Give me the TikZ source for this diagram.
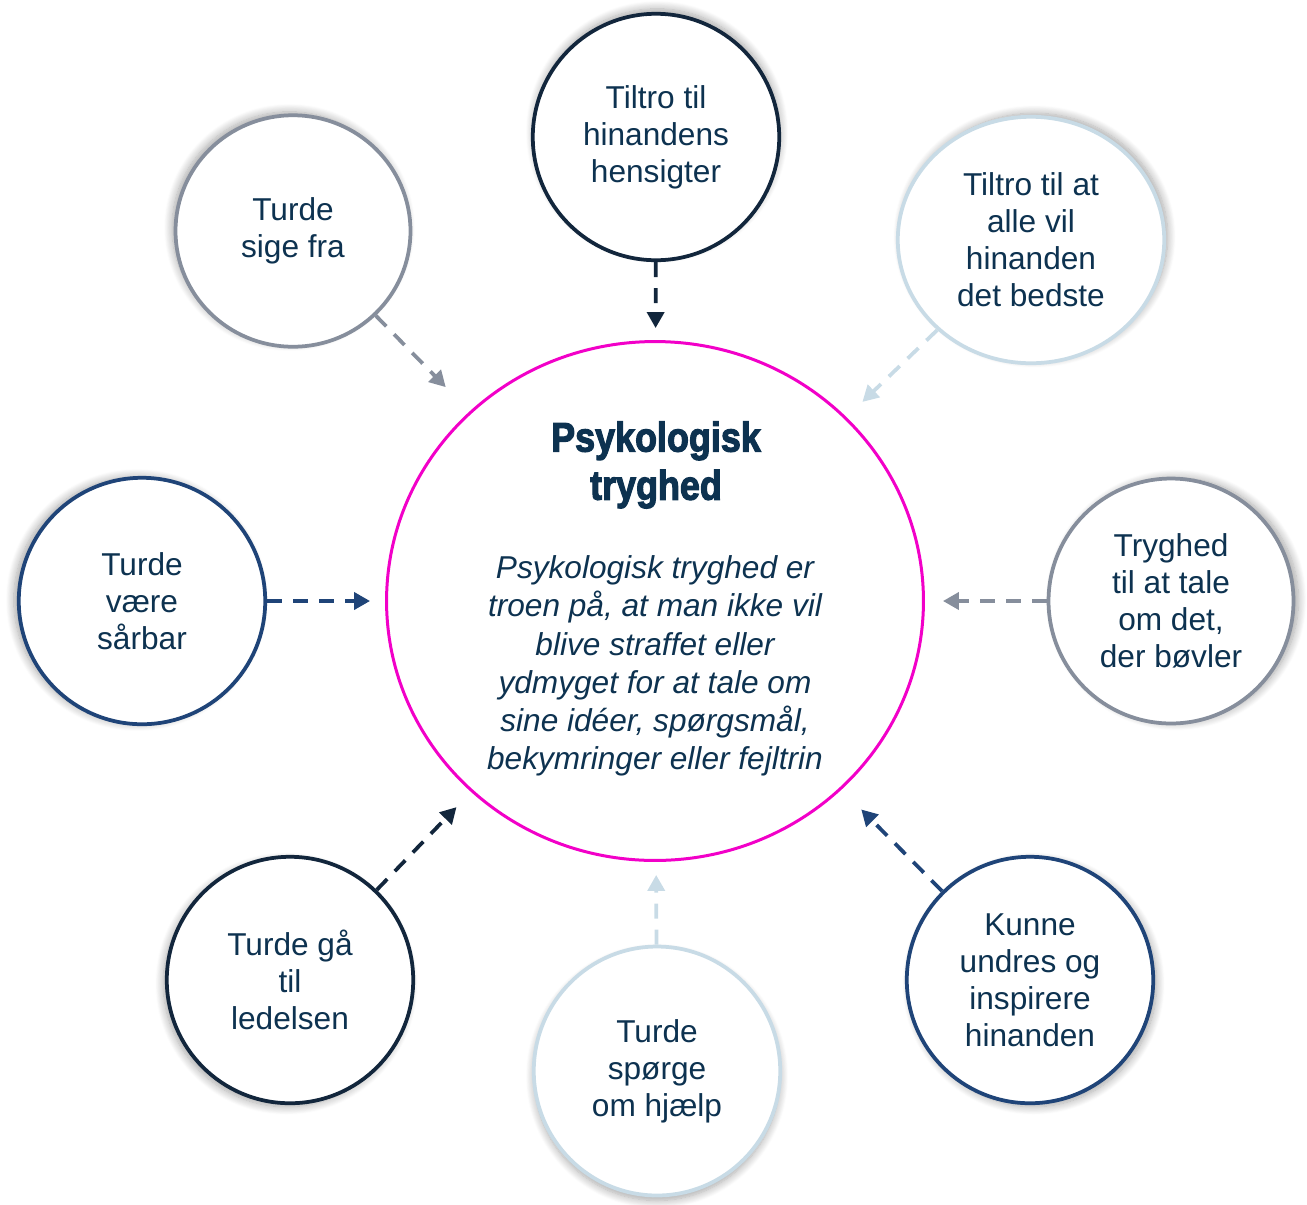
\documentclass[tikz,border=0pt]{standalone}
\usepackage{fontspec}
\setmainfont{Liberation Sans}
\newfontfamily\titlefont{Liberation Sans Bold}[FakeBold=3]
\usetikzlibrary{arrows.meta,shapes.geometric,shadows.blur}

\definecolor{ink}{RGB}{13,50,80}
\definecolor{cDark}{RGB}{18,38,60}
\definecolor{cBlue}{RGB}{31,68,120}
\definecolor{cGray}{RGB}{134,142,156}
\definecolor{cLight}{RGB}{200,219,230}
\definecolor{cMagenta}{RGB}{242,0,200}

\tikzset{
  bubble/.style={ellipse, draw, fill=white, line width=0.075cm, inner sep=0pt,
    align=center, text=ink, font=\fontsize{18}{21}\selectfont},
  glow/.style 2 args={blur shadow={shadow xshift=#1, shadow yshift=#2,
    shadow blur radius=0.16cm, shadow blur steps=10, shadow opacity=35}},
  link/.style={line width=0.075cm, dash pattern=on 0.3cm off 0.22cm,
    -{Triangle[length=0.32cm,width=0.34cm]}},
}

\begin{document}
\begin{tikzpicture}[x=0.02cm, y=-0.02cm]
  \useasboundingbox (0,0) rectangle (1307,1204);

  % central ellipse with heading and definition
  \node[ellipse, draw=cMagenta, line width=0.06cm, inner sep=0pt,
        minimum width=10.74cm, minimum height=10.38cm] (core) at (655,601) {};
  \node[inner sep=0pt, align=center, text=ink,
        font=\titlefont\fontsize{23.5}{27.4}\selectfont] (title) at (656,465)
        {\scalebox{0.87}[1]{Psykologisk}\\\scalebox{0.87}[1]{tryghed}};
  \node[inner sep=0pt, align=center, text=ink,
        font=\itshape\fontsize{18}{21.8}\selectfont] (body) at (655,666)
        {Psykologisk tryghed er\\troen på, at man ikke vil\\blive straffet eller\\
         ydmyget for at tale om\\sine idéer, spørgsmål,\\bekymringer eller fejltrin};

  % surrounding bubbles
  \node[bubble, draw=cDark, glow={0.02cm}{0.1cm}, minimum width=4.93cm, minimum height=4.93cm]
    (trust) at (656,137) {Tiltro til\\hinandens\\hensigter};
  \node[bubble, draw=cLight, glow={0.07cm}{0.07cm}, minimum width=5.33cm, minimum height=4.93cm]
    (best) at (1031,240) {Tiltro til at\\alle vil\\hinanden\\det bedste};
  \node[bubble, draw=cGray, glow={-0.07cm}{0.07cm}, minimum width=4.7cm, minimum height=4.63cm]
    (speak) at (293,231) {Turde\\sige fra};
  \node[bubble, draw=cBlue, glow={-0.1cm}{0.02cm}, minimum width=4.93cm, minimum height=4.93cm]
    (vuln) at (142,601) {Turde\\være\\sårbar};
  \node[bubble, draw=cGray, glow={0.1cm}{0.02cm}, minimum width=4.9cm, minimum height=4.9cm]
    (trouble) at (1171,601) {Tryghed\\til at tale\\om det,\\der bøvler};
  \node[bubble, draw=cDark, glow={-0.07cm}{-0.07cm}, minimum width=4.93cm, minimum height=4.93cm]
    (mgmt) at (290,980) {Turde gå\\til\\ledelsen};
  \node[bubble, draw=cLight, glow={0cm}{-0.1cm}, minimum width=4.93cm, minimum height=4.98cm]
    (help) at (657,1071) {Turde\\spørge\\om hjælp};
  \node[bubble, draw=cBlue, glow={0.07cm}{-0.07cm}, minimum width=4.93cm, minimum height=4.93cm]
    (wonder) at (1030,980) {Kunne\\undres og\\inspirere\\hinanden};

  % dashed connectors towards the centre
  \draw[link, cDark,  shorten >=0.24cm] (trust)   -- (core);
  \draw[link, cLight, shorten >=0.44cm] (best)    -- (core);
  \draw[link, cGray,  shorten >=0.68cm] (speak)   -- (core);
  \draw[link, cBlue,  shorten >=0.30cm] (vuln)    -- (core);
  \draw[link, cGray,  shorten >=0.36cm] (trouble) -- (core);
  \draw[link, cDark,  shorten >=0.42cm] (mgmt)    -- (core);
  \draw[link, cLight, shorten >=0.26cm] (help)    -- (core);
  \draw[link, cBlue,  shorten >=0.56cm] (wonder)  -- (core);
\end{tikzpicture}
\end{document}
